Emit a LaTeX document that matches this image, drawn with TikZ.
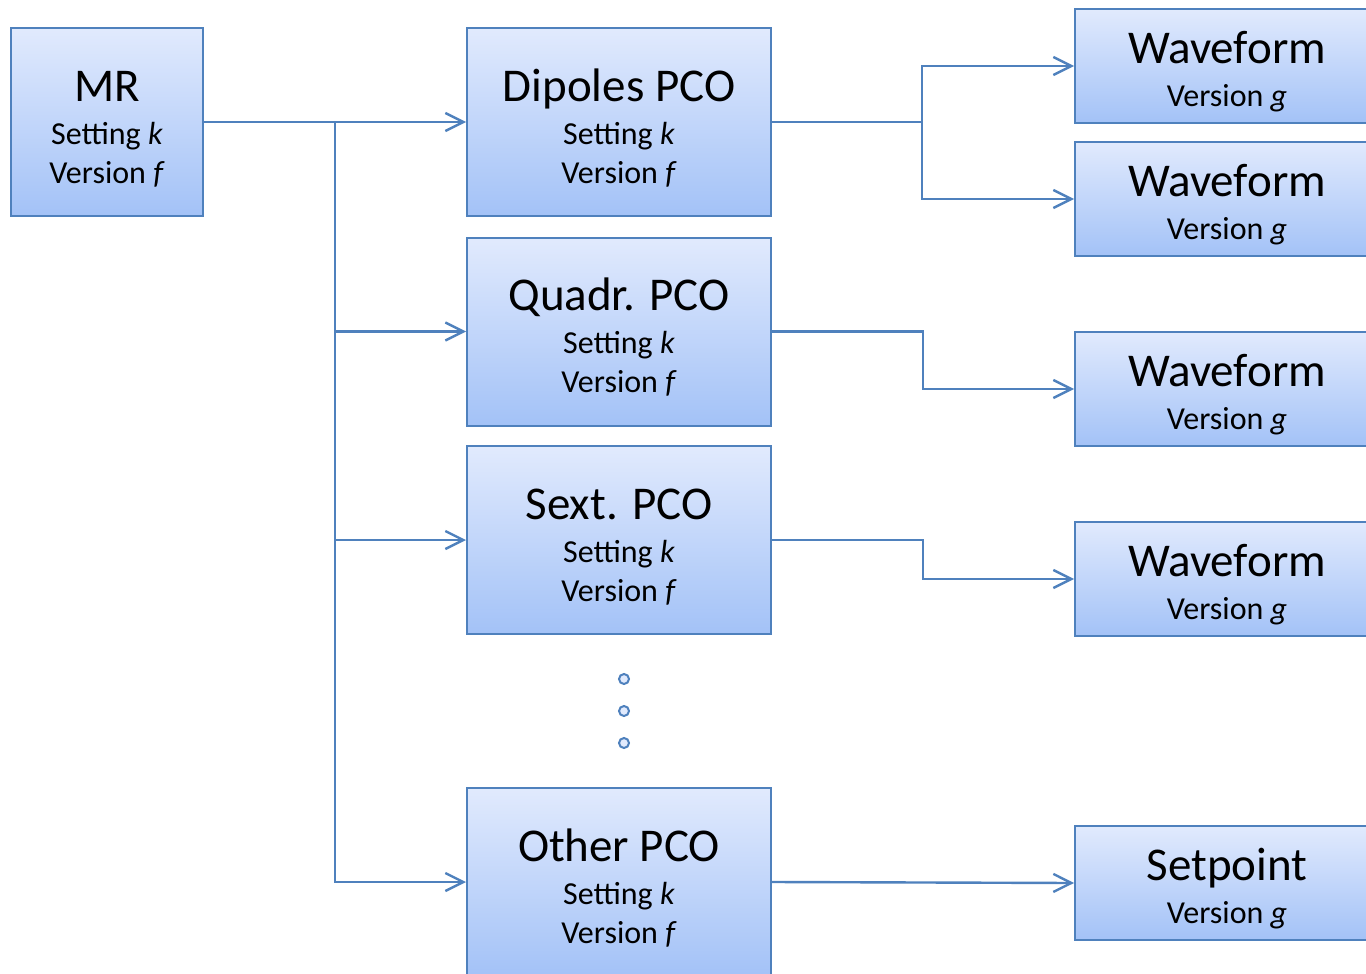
\documentclass[tikz,border=0pt]{standalone}
\usepackage{fontspec}
\setmainfont{Carlito}
\usepackage{xcolor}
\usetikzlibrary{arrows.meta, positioning}

\definecolor{boxline}{HTML}{4F81BD}
\definecolor{boxtop}{HTML}{E1EAFD}
\definecolor{boxbot}{HTML}{A3C2F7}

\begin{document}
\begin{tikzpicture}[x=0.5pt, y=-0.5pt,
        block/.style={draw=boxline, line width=1pt, top color=boxtop, bottom color=boxbot,
            align=center, inner sep=0pt, font=\fontsize{16}{19.5}\selectfont},
        pco/.style={block, minimum width=152pt, minimum height=94pt},
        wave/.style={block, minimum width=152pt, minimum height=57pt},
        link/.style={draw=boxline, line width=1.2pt, -{Straight Barb[length=9pt, width=9pt]}},
        dot/.style={circle, draw=boxline, line width=1pt, fill=boxtop, inner sep=0pt, minimum size=5pt}]
    \useasboundingbox (0,0) rectangle (1366,974);

    \node[block, minimum width=96pt, minimum height=94pt] (mr) at (107,122)
        {{\fontsize{23.5}{29}\selectfont\rule{0pt}{22pt}MR}\\[2pt] Setting \textit{k}\\ Version \textit{f}};

    % PCO column
    \node[pco] (dipoles) at (619,122)
        {{\fontsize{23.5}{29}\selectfont\rule{0pt}{22pt}Dipoles PCO}\\[2pt] Setting \textit{k}\\ Version \textit{f}};
    \node[pco] (quadr) at (619,331.5)
        {{\fontsize{23.5}{29}\selectfont\rule{0pt}{22pt}Quadr. PCO}\\[2pt] Setting \textit{k}\\ Version \textit{f}};
    \node[pco] (sext) at (619,540)
        {{\fontsize{23.5}{29}\selectfont\rule{0pt}{22pt}Sext. PCO}\\[2pt] Setting \textit{k}\\ Version \textit{f}};
    \node[pco] (other) at (619,882)
        {{\fontsize{23.5}{29}\selectfont\rule{0pt}{22pt}Other PCO}\\[2pt] Setting \textit{k}\\ Version \textit{f}};

    % dots between Sext. and Other
    \node[dot] (dot1) at (624,679) {};
    \node[dot] (dot2) at (624,711) {};
    \node[dot] (dot3) at (624,743) {};

    % output column
    \node[wave] (wave1) at (1227,66)
        {{\fontsize{23.5}{29}\selectfont\rule{0pt}{22pt}Waveform}\\[2pt] Version \textit{g}};
    \node[wave] (wave2) at (1227,199)
        {{\fontsize{23.5}{29}\selectfont\rule{0pt}{22pt}Waveform}\\[2pt] Version \textit{g}};
    \node[wave] (wave3) at (1227,389)
        {{\fontsize{23.5}{29}\selectfont\rule{0pt}{22pt}Waveform}\\[2pt] Version \textit{g}};
    \node[wave] (wave4) at (1227,579)
        {{\fontsize{23.5}{29}\selectfont\rule{0pt}{22pt}Waveform}\\[2pt] Version \textit{g}};
    \node[wave] (setpoint) at (1227,883)
        {{\fontsize{23.5}{29}\selectfont\rule{0pt}{22pt}Setpoint}\\[2pt] Version \textit{g}};

    % MR to the PCOs
    \coordinate (split) at (335,122);
    \draw[link] (mr.east) -- (dipoles.west);
    \draw[boxline, line width=1.2pt] (split) -- (335,882);
    \draw[link] (split) |- (quadr.west);
    \draw[link] (split) |- (sext.west);
    \draw[link] (split) |- (other.west);

    % PCOs to the outputs
    \coordinate (fork) at (922,122);
    \draw[boxline, line width=1.2pt] (dipoles.east) -- (fork);
    \draw[link] (fork) |- (wave1.west);
    \draw[link] (fork) |- (wave2.west);
    \draw[link] (quadr.east) -- ++(151,0) |- (wave3.west);
    \draw[link] (sext.east) -- ++(151,0) |- (wave4.west);
    \draw[link] (other.east) -- (setpoint.west);
\end{tikzpicture}
\end{document}
